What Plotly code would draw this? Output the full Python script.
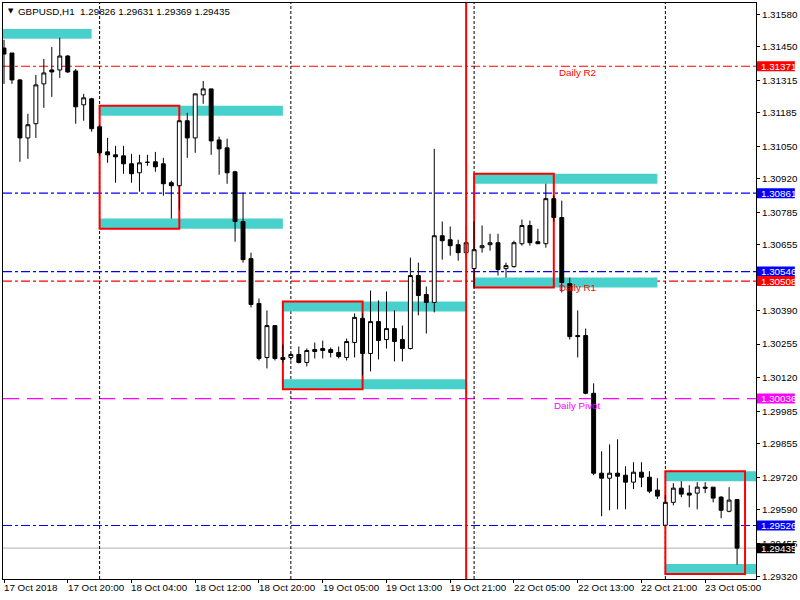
import plotly.graph_objects as go

# ---------------- data ----------------
bar_index = list(range(93))
opens = [1.31444, 1.31424, 1.31316, 1.31083, 1.31140, 1.31300, 1.31356, 1.31356, 1.31412, 1.31352,
         1.31216, 1.31240, 1.31128, 1.31027, 1.31015, 1.31011, 1.30979, 1.30943, 1.30985, 1.30987,
         1.30979, 1.30903, 1.30891, 1.31152, 1.31083, 1.31256, 1.31280, 1.31075, 1.31043, 1.30947,
         1.30747, 1.30598, 1.30418, 1.30201, 1.30329, 1.30201, 1.30201, 1.30213, 1.30181, 1.30233,
         1.30237, 1.30233, 1.30221, 1.30201, 1.30261, 1.30358, 1.30217, 1.30345, 1.30273, 1.30317,
         1.30273, 1.30237, 1.30530, 1.30454, 1.30422, 1.30690, 1.30674, 1.30654, 1.30622, 1.30558,
         1.30642, 1.30654, 1.30662, 1.30558, 1.30566, 1.30658, 1.30731, 1.30666, 1.30658, 1.30839,
         1.30763, 1.30498, 1.30289, 1.30289, 1.30057, 1.29736, 1.29716, 1.29736, 1.29728, 1.29700,
         1.29740, 1.29720, 1.29668, 1.29527, 1.29619, 1.29676, 1.29656, 1.29656, 1.29680, 1.29680,
         1.29640, 1.29583, 1.29630]
highs = [1.31477, 1.31424, 1.31320, 1.31180, 1.31336, 1.31400, 1.31448, 1.31485, 1.31416, 1.31360,
         1.31260, 1.31244, 1.31136, 1.31083, 1.31051, 1.31051, 1.31019, 1.31015, 1.31015, 1.31027,
         1.31003, 1.30911, 1.31152, 1.31184, 1.31260, 1.31312, 1.31280, 1.31088, 1.31080, 1.30951,
         1.30863, 1.30622, 1.30438, 1.30390, 1.30329, 1.30253, 1.30217, 1.30245, 1.30237, 1.30261,
         1.30269, 1.30241, 1.30245, 1.30277, 1.30378, 1.30378, 1.30470, 1.30430, 1.30466, 1.30390,
         1.30329, 1.30602, 1.30582, 1.30486, 1.31039, 1.30747, 1.30727, 1.30674, 1.30731, 1.30747,
         1.30731, 1.30698, 1.30698, 1.30582, 1.30670, 1.30755, 1.30751, 1.30718, 1.30899, 1.30851,
         1.30831, 1.30522, 1.30390, 1.30317, 1.30097, 1.29824, 1.29852, 1.29872, 1.29764, 1.29780,
         1.29780, 1.29744, 1.29716, 1.29648, 1.29696, 1.29704, 1.29688, 1.29700, 1.29700, 1.29680,
         1.29644, 1.29680, 1.29631]
lows = [1.31300, 1.31300, 1.30987, 1.30999, 1.31083, 1.31204, 1.31248, 1.31324, 1.31344, 1.31140,
        1.31152, 1.31108, 1.31011, 1.30983, 1.30903, 1.30939, 1.30903, 1.30867, 1.30971, 1.30947,
        1.30851, 1.30759, 1.30795, 1.31003, 1.31023, 1.31220, 1.31015, 1.30935, 1.30899, 1.30666,
        1.30582, 1.30402, 1.30189, 1.30157, 1.30189, 1.30181, 1.30189, 1.30177, 1.30165, 1.30197,
        1.30197, 1.30201, 1.30197, 1.30189, 1.30201, 1.30129, 1.30145, 1.30193, 1.30237, 1.30185,
        1.30185, 1.30233, 1.30370, 1.30297, 1.30382, 1.30594, 1.30610, 1.30590, 1.30602, 1.30482,
        1.30622, 1.30630, 1.30530, 1.30522, 1.30562, 1.30650, 1.30650, 1.30656, 1.30642, 1.30747,
        1.30462, 1.30273, 1.30201, 1.30053, 1.29728, 1.29563, 1.29587, 1.29591, 1.29591, 1.29672,
        1.29680, 1.29656, 1.29632, 1.29524, 1.29607, 1.29640, 1.29599, 1.29591, 1.29656, 1.29619,
        1.29555, 1.29579, 1.29369]
closes = [1.31420, 1.31316, 1.31083, 1.31136, 1.31296, 1.31344, 1.31348, 1.31412, 1.31348, 1.31208,
          1.31244, 1.31120, 1.31023, 1.31015, 1.31007, 1.30979, 1.30939, 1.30983, 1.30985, 1.30967,
          1.30899, 1.30891, 1.31152, 1.31083, 1.31260, 1.31280, 1.31071, 1.31039, 1.30943, 1.30747,
          1.30594, 1.30414, 1.30197, 1.30329, 1.30197, 1.30193, 1.30213, 1.30181, 1.30229, 1.30225,
          1.30229, 1.30221, 1.30205, 1.30265, 1.30362, 1.30217, 1.30345, 1.30269, 1.30317, 1.30265,
          1.30237, 1.30530, 1.30450, 1.30422, 1.30690, 1.30670, 1.30650, 1.30622, 1.30662, 1.30634,
          1.30650, 1.30662, 1.30554, 1.30570, 1.30662, 1.30731, 1.30662, 1.30658, 1.30839, 1.30763,
          1.30502, 1.30285, 1.30285, 1.30057, 1.29736, 1.29716, 1.29736, 1.29724, 1.29700, 1.29740,
          1.29720, 1.29664, 1.29644, 1.29619, 1.29676, 1.29652, 1.29648, 1.29680, 1.29676, 1.29636,
          1.29587, 1.29628, 1.29435]

x_tick_index = [0, 8, 16, 24, 32, 40, 48, 56, 64, 72, 80, 88]
x_tick_labels = ["17 Oct 2018", "17 Oct 20:00", "18 Oct 04:00", "18 Oct 12:00", "18 Oct 20:00",
                 "19 Oct 05:00", "19 Oct 13:00", "19 Oct 21:00", "22 Oct 05:00", "22 Oct 13:00",
                 "22 Oct 21:00", "23 Oct 05:00"]
y_tick_values = [1.31580, 1.31450, 1.31315, 1.31185, 1.31050, 1.30920, 1.30785, 1.30655,
                 1.30390, 1.30255, 1.30120, 1.29985, 1.29855, 1.29720, 1.29590, 1.29455, 1.29320]

day_separators = [12, 36, 59, 83]
marker_bar = 58

level_prices = [1.31371, 1.30861, 1.30546, 1.30508, 1.30036, 1.29526, 1.29435]
level_names = ["Daily R2", "", "", "Daily R1", "Daily Pivot", "", ""]

zone_start = [-1, 12, 12, 35, 35, 59, 59, 83, 83]
zone_end = [11, 35, 35, 58, 58, 82, 82, 96, 96]
zone_top = [1.31521, 1.31212, 1.30759, 1.30426, 1.30113, 1.30939, 1.30522, 1.29744, 1.29371]
zone_bottom = [1.31481, 1.31172, 1.30718, 1.30386, 1.30073, 1.30899, 1.30482, 1.29704, 1.29331]

box_start = [12, 35, 59, 83]
box_end = [22, 45, 69, 93]
box_top = [1.31212, 1.30426, 1.30939, 1.29744]
box_bottom = [1.30718, 1.30073, 1.30482, 1.29331]

header_text = "GBPUSD,H1\u00a0\u00a01.29826 1.29631 1.29369 1.29435"

# ---------------- styles ----------------
FONT = "Liberation Sans, Arial, sans-serif"
FS = 9.8
level_colors = ["#ff0000", "#0000ff", "#0000ff", "#ff0000", "#ff00ff", "#0000ff", "#c0c0c0"]
level_dash = ["9px,3px,3px,3px"] * 4 + ["16px,8px", "9px,3px,3px,3px", "solid"]
label_bg = ["#ff0000", "#0000ff", "#0000ff", "#ff0000", "#ff00ff", "#0000ff", "#000000"]

PX_L, PX_R, PX_T, PX_B = 2, 758, 2, 579


def fx(px):
    return (px - PX_L) / (PX_R - PX_L)


def fy(py):
    return 1 - (py - PX_T) / (PX_B - PX_T)


fig = go.Figure()
fig.add_trace(go.Candlestick(
    x=bar_index, open=opens, high=highs, low=lows, close=closes,
    increasing=dict(line=dict(color="#000000", width=1), fillcolor="#ffffff"),
    decreasing=dict(line=dict(color="#000000", width=1), fillcolor="#000000"),
    whiskerwidth=0, hoverinfo="skip", showlegend=False,
))

shapes = []
for x0, x1, t, b in zip(zone_start, zone_end, zone_top, zone_bottom):
    shapes.append(dict(type="rect", xref="x", yref="y", x0=x0, x1=x1, y0=b, y1=t,
                       fillcolor="#48d1cc", line=dict(width=0), layer="below"))
for x0, x1, t, b in zip(box_start, box_end, box_top, box_bottom):
    shapes.append(dict(type="rect", xref="x", yref="y", x0=x0, x1=x1, y0=b, y1=t,
                       fillcolor="rgba(0,0,0,0)", line=dict(color="#ff0000", width=2), layer="below"))
for p, c, d in zip(level_prices, level_colors, level_dash):
    shapes.append(dict(type="line", xref="paper", yref="y", x0=0, x1=1, y0=p, y1=p,
                       line=dict(color=c, width=1.2, dash=d), layer="below"))
for s in day_separators:
    shapes.append(dict(type="line", xref="x", yref="paper", x0=s, x1=s, y0=0, y1=1,
                       line=dict(color="#000000", width=1, dash="3px,2px"), layer="below"))
shapes.append(dict(type="line", xref="x", yref="paper", x0=marker_bar, x1=marker_bar, y0=0, y1=1,
                   line=dict(color="#ff0000", width=2), layer="above"))
# price label backgrounds on the right axis
for p, bg in zip(level_prices, label_bg):
    shapes.append(dict(type="rect", xref="paper", yref="y", ysizemode="pixel", yanchor=p,
                       x0=fx(759), x1=fx(797), y0=-5, y1=5,
                       fillcolor=bg, line=dict(width=0), layer="above"))

annotations = []
for p in level_prices:
    annotations.append(dict(xref="paper", yref="y", x=fx(761), y=p, xanchor="left", yanchor="middle",
                            text=f"{p:.5f}", showarrow=False,
                            font=dict(family=FONT, size=FS, color="#ffffff")))
for p, n, c in zip(level_prices, level_names, level_colors):
    if n:
        annotations.append(dict(xref="x", yref="y", x=72, y=p, xanchor="center", yanchor="top",
                                text=n, showarrow=False, yshift=1,
                                font=dict(family=FONT, size=FS, color=c)))
for k, lab in zip(x_tick_index, x_tick_labels):
    annotations.append(dict(xref="x", yref="paper", x=k, y=fy(588), xanchor="left", yanchor="middle",
                            text=lab, showarrow=False, xshift=-2,
                            font=dict(family=FONT, size=FS, color="#000000")))
annotations.append(dict(xref="paper", yref="paper", x=fx(5), y=fy(10), xanchor="left", yanchor="middle",
                        text="\u25bc", showarrow=False, font=dict(family="DejaVu Sans", size=7, color="#000000")))
annotations.append(dict(xref="paper", yref="paper", x=fx(15), y=fy(10.5), xanchor="left", yanchor="middle",
                        text=header_text, showarrow=False, font=dict(family=FONT, size=FS, color="#000000")))

fig.update_layout(
    width=800, height=600,
    margin=dict(l=PX_L, r=800 - PX_R, t=PX_T, b=600 - PX_B),
    paper_bgcolor="#ffffff", plot_bgcolor="#ffffff",
    showlegend=False, hovermode=False,
    shapes=shapes, annotations=annotations,
    font=dict(family=FONT, size=FS, color="#000000"),
    xaxis=dict(range=[-0.125, 94.375], rangeslider=dict(visible=False), showgrid=False, zeroline=False,
               tickmode="array", tickvals=x_tick_index, showticklabels=False,
               ticks="outside", ticklen=3, tickcolor="#000000",
               showline=True, mirror=True, linecolor="#000000", linewidth=1),
    yaxis=dict(range=[1.29311, 1.31625], side="right", showgrid=False, zeroline=False,
               tickmode="array", tickvals=y_tick_values, ticktext=[f"{v:.5f}" for v in y_tick_values],
               ticks="outside", ticklen=3, tickcolor="#000000",
               tickfont=dict(family=FONT, size=FS, color="#000000"),
               showline=True, mirror=True, linecolor="#000000", linewidth=1),
)

fig.write_html("out.html", config={"displayModeBar": False},
               post_script="document.body.style.margin='0';document.body.style.overflow='hidden';")
